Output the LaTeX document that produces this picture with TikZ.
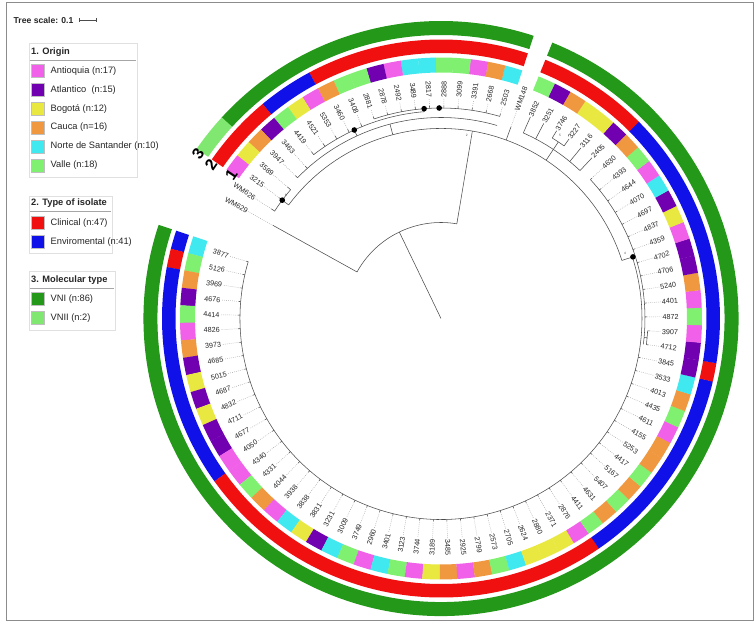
\documentclass[tikz,border=0pt]{standalone}
\usepackage{fontspec}
\setmainfont{Liberation Sans}
\definecolor{oA}{RGB}{240,96,232}
\definecolor{oP}{RGB}{112,0,176}
\definecolor{oY}{RGB}{232,232,64}
\definecolor{oO}{RGB}{240,152,64}
\definecolor{oC}{RGB}{64,232,240}
\definecolor{oV}{RGB}{128,240,112}
\definecolor{tCli}{RGB}{240,16,16}
\definecolor{tEnv}{RGB}{16,16,232}
\definecolor{mVNI}{RGB}{36,152,24}
\definecolor{mVNII}{RGB}{128,232,112}
\newcommand\leafang[1]{163.6+(#1-1)*3.86}
\newcommand\ringseg[5]{%
  \pgfmathsetmacro\ta{\leafang{#3}-1.95}%
  \pgfmathsetmacro\tb{\leafang{#4}+1.95}%
  \fill[fill=#5] (\ta:#1) arc[start angle=\ta,end angle=\tb,radius=#1] -- (\tb:#2) arc[start angle=\tb,end angle=\ta,radius=#2] -- cycle;}
\newcommand\leafln[3]{%
  \pgfmathsetmacro\th{\leafang{#1}}%
  \pgfmathtruncatemacro\flip{cos(\th)<0}%
  \ifnum\flip=1 \def\anc{east}\else\def\anc{west}\fi
  \draw[treeln] (\th:#2) -- (\th:#3);
  \draw[dotln] (\th:#3) -- (l#1.\anc);}
\newcommand\leafsolid[2]{%
  \pgfmathsetmacro\th{\leafang{#1}}%
  \pgfmathtruncatemacro\flip{cos(\th)<0}%
  \ifnum\flip=1 \def\anc{east}\else\def\anc{west}\fi
  \draw[treeln] (\th:#2) -- (l#1.\anc);}
\begin{document}
\begin{tikzpicture}[x=1pt,y=1pt,
  leaflab/.style={font=\fontsize{7.2}{8}\selectfont, inner sep=0.8pt, text=black!85},
  treeln/.style={draw=black!70, line width=0.55pt},
  dotln/.style={draw=black!40, line width=0.45pt, dash pattern=on 0.7pt off 1.3pt},
  legtxt/.style={font=\fontsize{9.3}{11}\selectfont, anchor=west, inner sep=0pt, text=black!85},
  legttl/.style={font=\bfseries\fontsize{9.3}{11}\selectfont, anchor=west, inner sep=0pt, text=black!85},
  legbox/.style={draw=black!12, line width=0.6pt},
  legsq/.style={draw=black!25, line width=0.4pt},
  ringnum/.style={font=\bfseries\fontsize{16}{16}\selectfont, inner sep=0pt},
  bsval/.style={font=\fontsize{3.2}{3.5}\selectfont, inner sep=0pt, text=black!70}
]
\useasboundingbox (-441,318.5) rectangle (314,-304.5);
\fill[white] (-441,318.5) rectangle (314,-304.5);
% frame
\draw[black!45, line width=0.9pt] (-435,316.5) rectangle (312,-301.5);

% ---- ring 1: origin ----
\foreach \c [count=\i] in {oC,oV,oO,oP,oV,oA,oO,oP,oY,oP,
  oY,oP,oP,oA,oA,oV,oO,oA,oC,oY,
  oP,oC,oV,oA,oC,oV,oA,oY,oO,oA,
  oO,oV,oC,oY,oY,oY,oA,oV,oO,oV,
  oO,oV,oO,oO,oA,oV,oO,oC,oP,oP,
  oA,oV,oA,oO,oP,oP,oA,oY,oP,oC,
  oA,oV,oO,oP,oY,oY,oO,oP,oV,none,
  oC,oO,oA,oV,oV,oC,oC,oA,oP,oV,
  oV,oO,oA,oY,oV,oP,oO,oY,oA}{\ringseg{246}{261}{\i}{\i}{\c}}
% ---- ring 2: type ----
\foreach \a/\b/\c in {1/1/tEnv,2/2/tCli,3/14/tEnv,15/37/tCli,38/48/tEnv,49/49/tCli,
  50/63/tEnv,64/69/tCli,71/82/tCli,83/85/tEnv,86/89/tCli}{\ringseg{265.5}{279}{\a}{\b}{\c}}
% ---- ring 3: molecular type ----
\foreach \a/\b/\c in {1/69/mVNI,71/87/mVNI,88/89/mVNII}{\ringseg{283.5}{297.5}{\a}{\b}{\c}}

% ring numbers
\node[ringnum, rotate=56] (rn3) at (145.8:293.6) {3};
\node[ringnum, rotate=56] (rn2) at (146.3:276.5) {2};
\node[ringnum, rotate=56] (rn1) at (145.6:254.3) {1};

% ---- leaf labels ----
\foreach \lab [count=\i] in {3877,5126,3969,4676,4414,4826,3973,4685,5015,4687,
  4832,4711,4677,4050,4340,4331,4044,3938,3838,3831,
  3231,3009,3749,2960,3401,3123,3744,3189,3485,2925,
  2799,2573,2705,2624,2880,2371,2876,4411,4631,5407,
  5167,4417,5253,4155,4611,4435,4013,3533,3845,4712,
  3907,4872,4401,5240,4706,4702,4359,4837,4697,4070,
  4644,4393,4630,2405,3116,3227,3746,3251,3852,WM148,
  2503,2668,3391,3099,2888,2817,3489,2492,2878,2881,
  3408,3460,5353,4521,4419,3463,3947,3589,3215,WM626,
  WM629}{
  \pgfmathsetmacro\th{\leafang{\i}}
  \pgfmathtruncatemacro\flip{cos(\th)<0}
  \ifnum\flip=1
    \pgfmathsetmacro\rot{\th+180}
    \node[leaflab, rotate=\rot, anchor=east] (l\i) at (\th:220.5) {\lab};
  \else
    \node[leaflab, rotate=\th, anchor=west] (l\i) at (\th:220.5) {\lab};
  \fi
}

% ---- tree ----
\coordinate (root) at (0,0);
\draw[treeln] (root) -- (115.75:96);
\draw[treeln] (80.5:96) arc[start angle=80.5,end angle=151,radius=96];
\draw[treeln] (80.5:96) -- (80.5:190);
\draw[treeln] (17.8:190) arc[start angle=17.8,end angle=143.3,radius=190];
% left node
\draw[treeln] (143.3:190) -- (143.3:198);
\draw[treeln] (139.5:198) arc[start angle=139.5,end angle=147.2,radius=198];
% large arc
\draw[treeln] (163.6:201) arc[start angle=163.6,end angle=377.8,radius=201];
% right clade
\draw[treeln] (17.8:190) -- (17.8:204);
\draw[treeln] (-7.3:204) arc[start angle=-7.3,end angle=42.9,radius=204];
\draw[treeln] (354.65:204) -- (354.65:207);
\draw[treeln] (352.7:207) arc[start angle=352.7,end angle=356.6,radius=207];
% S clade
\draw[treeln] (56.4:190) -- (56.4:203);
\draw[treeln] (46.8:203) arc[start angle=46.8,end angle=66.0,radius=203];
\draw[treeln] (56.4:203) -- (56.4:212);
\draw[treeln] (54.5:212) arc[start angle=54.5,end angle=58.3,radius=212];
% top clade
\draw[treeln] (104.7:190) -- (104.7:201);
\draw[treeln] (73.8:201) arc[start angle=73.8,end angle=135.6,radius=201];
\draw[treeln] (114.7:201) -- (114.7:207.5);
\draw[treeln] (94.6:207.5) arc[start angle=94.6,end angle=127.9,radius=207.5];
\draw[treeln] (94.6:207.5) -- (94.6:210.5);
\draw[treeln] (73.8:210.5) arc[start angle=73.8,end angle=108.5,radius=210.5];

% leaves
\foreach \i in {1,...,49}{\leafln{\i}{201}{203}}
\foreach \i in {50,51}{\leafln{\i}{207}{209}}
\foreach \i in {52,...,63}{\leafln{\i}{204}{206}}
\foreach \i in {64,65,68,69}{\leafsolid{\i}{203}}
\foreach \i in {66,67}{\leafsolid{\i}{212}}
\leafln{70}{190}{204}
\foreach \i in {71,...,80}{\leafln{\i}{210.5}{213}}
\foreach \i in {81,...,85}{\leafln{\i}{207.5}{211}}
\foreach \i in {86,87}{\leafln{\i}{201}{204}}
\foreach \i in {88,89,90}{\leafln{\i}{198}{202}}
\leafln{91}{96}{192}

% support dots
\foreach \a/\r in {143.3/198,17.8/201.6,114.7/207.5,94.6/210.5,90.5/210.5}{\fill (\a:\r) circle (2.8);}
% support values
\node[bsval] (bs1) at (25.7,183.5) {2};
\node[bsval] (bs2) at (-155.3,122.8) {6};
\node[bsval] (bs3) at (119,183.5) {5};
\node[bsval] (bs4) at (184,65.2) {4};

% ---- legend (pixel coordinates) ----
\begin{scope}[shift={(-441,318.5)}, yscale=-1]
  \node[legttl, font=\bfseries\fontsize{8.6}{10}\selectfont] (ts) at (13.5,20) {Tree scale: 0.1};
  \draw[black!70, line width=0.6pt] (79.5,20) -- (96,20) (79.5,18) -- (79.5,22) (96,18) -- (96,22);
  % box 1
  \draw[legbox] (29,43) rectangle (137,177);
  \node[legttl] (t1) at (31,52) {1. Origin};
  \draw[black!35, line width=0.8pt] (30,60.5) -- (136,60.5);
  \foreach \y/\c/\t in {71/oA/{Antioquia (n:17)},90/oP/{Atlantico\ \ (n:15)},109/oY/{Bogotá (n:12)},
     127.5/oO/{Cauca (n=16)},146.5/oC/{Norte de Santander (n:10)},165.5/oV/{Valle (n:18)}}{
    \filldraw[legsq, fill=\c] (31,\y-6.5) rectangle (44,\y+6.5);
    \node[legtxt] at (50.5,\y) {\t};
  }
  % box 2
  \draw[legbox] (29,196) rectangle (112,253.5);
  \node[legttl] (t2) at (31,203.5) {2. Type of isolate};
  \draw[black!35, line width=0.8pt] (30,211.5) -- (111,211.5);
  \foreach \y/\c/\t in {222.7/tCli/{Clinical (n:47)},241.7/tEnv/{Enviromental (n:41)}}{
    \filldraw[legsq, fill=\c] (31,\y-6.5) rectangle (44,\y+6.5);
    \node[legtxt] at (50.5,\y) {\t};
  }
  % box 3
  \draw[legbox] (29,271.5) rectangle (115,330);
  \node[legttl] (t3) at (31,280) {3. Molecular type};
  \draw[black!35, line width=0.8pt] (30,288) -- (114,288);
  \foreach \y/\c/\t in {298.7/mVNI/{VNI (n:86)},317.7/mVNII/{VNII (n:2)}}{
    \filldraw[legsq, fill=\c] (31,\y-6.5) rectangle (44,\y+6.5);
    \node[legtxt] at (50.5,\y) {\t};
  }
\end{scope}
\end{tikzpicture}
\end{document}
